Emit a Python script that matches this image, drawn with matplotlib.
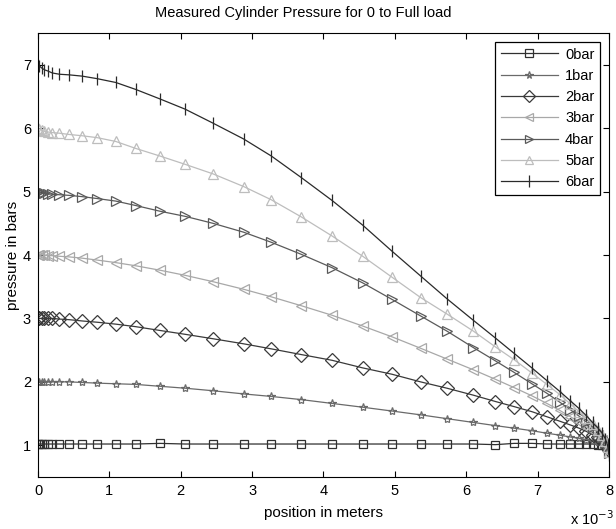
import numpy as np
import matplotlib
matplotlib.use("Agg")
import matplotlib.pyplot as plt

# position samples (units of 1e-3 m)
pos = [0, 0.02, 0.05, 0.09, 0.14, 0.2, 0.3, 0.44, 0.62, 0.83, 1.09, 1.37, 1.71, 2.06,
       2.45, 2.88, 3.27, 3.69, 4.12, 4.55, 4.96, 5.36, 5.73, 6.10, 6.41, 6.67, 6.92,
       7.13, 7.31, 7.46, 7.58, 7.68, 7.77, 7.84, 7.90, 7.95, 7.98, 8.0]

p0 = [1.02, 1.02, 1.02, 1.02, 1.02, 1.02, 1.02, 1.02, 1.02, 1.02, 1.02, 1.02, 1.03, 1.02,
      1.02, 1.02, 1.02, 1.02, 1.02, 1.02, 1.02, 1.02, 1.02, 1.02, 1.01, 1.03, 1.03,
      1.02, 1.02, 1.02, 1.02, 1.02, 1.02, 1.01, 1.01, 1.0, 0.99, 0.98]
p1 = [2.0, 2.0, 2.0, 2.0, 2.0, 2.0, 2.0, 2.0, 1.99, 1.98, 1.97, 1.96, 1.93, 1.9,
      1.86, 1.81, 1.77, 1.72, 1.66, 1.6, 1.54, 1.48, 1.42, 1.36, 1.31, 1.27, 1.23,
      1.19, 1.16, 1.13, 1.11, 1.09, 1.07, 1.05, 1.03, 1.0, 0.98, 0.95]
p2 = [3.0, 3.0, 3.0, 3.0, 3.0, 3.0, 2.99, 2.98, 2.96, 2.94, 2.91, 2.87, 2.81, 2.75,
      2.68, 2.6, 2.52, 2.43, 2.34, 2.22, 2.12, 2.0, 1.9, 1.79, 1.69, 1.61, 1.53,
      1.45, 1.38, 1.32, 1.27, 1.22, 1.17, 1.13, 1.08, 1.03, 0.99, 0.93]
p3 = [4.0, 4.0, 4.0, 4.0, 3.99, 3.99, 3.98, 3.97, 3.95, 3.92, 3.88, 3.83, 3.76, 3.68,
      3.58, 3.46, 3.34, 3.2, 3.05, 2.88, 2.71, 2.53, 2.36, 2.19, 2.04, 1.91, 1.78,
      1.66, 1.55, 1.45, 1.37, 1.29, 1.22, 1.16, 1.09, 1.02, 0.97, 0.9]
p4 = [5.0, 4.99, 4.98, 4.97, 4.96, 4.96, 4.95, 4.94, 4.92, 4.89, 4.85, 4.78, 4.69, 4.61,
      4.5, 4.36, 4.2, 4.01, 3.8, 3.56, 3.3, 3.04, 2.8, 2.54, 2.33, 2.15, 1.97,
      1.82, 1.68, 1.56, 1.46, 1.37, 1.29, 1.21, 1.13, 1.04, 0.97, 0.88]
p5 = [6.0, 5.99, 5.97, 5.95, 5.94, 5.93, 5.92, 5.9, 5.88, 5.85, 5.79, 5.68, 5.56, 5.43,
      5.28, 5.08, 4.87, 4.6, 4.3, 3.98, 3.65, 3.33, 3.07, 2.8, 2.55, 2.35, 2.14,
      1.96, 1.8, 1.65, 1.53, 1.43, 1.33, 1.24, 1.16, 1.06, 0.98, 0.9]
p6 = [7.0, 6.98, 6.95, 6.92, 6.9, 6.87, 6.85, 6.84, 6.82, 6.78, 6.72, 6.61, 6.46, 6.3,
      6.08, 5.83, 5.56, 5.22, 4.86, 4.47, 4.06, 3.67, 3.31, 2.97, 2.69, 2.45, 2.22,
      2.02, 1.85, 1.7, 1.58, 1.47, 1.36, 1.28, 1.2, 1.1, 1.0, 0.85]

labels = ['0bar', '1bar', '2bar', '3bar', '4bar', '5bar', '6bar']
series = [p0, p1, p2, p3, p4, p5, p6]
markers = ['s', '*', 'D', '<', '>', '^', '|']
colors = ['#303030', '#6a6a6a', '#3a3a3a', '#a8a8a8', '#5a5a5a', '#bdbdbd', '#2a2a2a']
msizes = [6, 6, 7, 7, 7, 7, 9]

plt.rcParams['font.family'] = ['Liberation Sans', 'DejaVu Sans']

fig = plt.figure(figsize=(6.16, 5.29), dpi=100)
ax = fig.add_axes([0.0617, 0.0983, 0.9269, 0.8393])

x = np.array(pos) * 1e-3
for y, lab, m, c, ms in zip(series, labels, markers, colors, msizes):
    ax.plot(x, y, color=c, lw=0.9, marker=m, markersize=ms, markerfacecolor='none',
            markeredgecolor=c, markeredgewidth=0.9, label=lab)

ax.set_xlim(0, 8e-3)
ax.set_ylim(0.5, 7.5)
ax.set_xticks(np.arange(0, 9) * 1e-3)
ax.set_xticklabels([str(i) for i in range(9)])
ax.set_yticks(range(1, 8))
ax.tick_params(direction='in', top=True, right=True, labelsize=10.5, length=4, pad=5)
fig.text(0.493, 0.976, 'Measured Cylinder Pressure for 0 to Full load', fontsize=10.5,
         ha='center', va='center')
ax.set_xlabel('position in meters', fontsize=11, labelpad=6)
ax.set_ylabel('pressure in bars', fontsize=11, labelpad=2)
fig.text(0.997, 0.008, r'x 10$^{-3}$', fontsize=10.5, ha='right')

leg = ax.legend(loc='upper right', fontsize=10.5, fancybox=False, edgecolor='black',
                framealpha=1, handlelength=3.9, handletextpad=0.5, labelspacing=0.5,
                borderaxespad=0.6, markerscale=0.9)
leg.get_frame().set_linewidth(0.9)

fig.savefig('out.png', dpi=100)
